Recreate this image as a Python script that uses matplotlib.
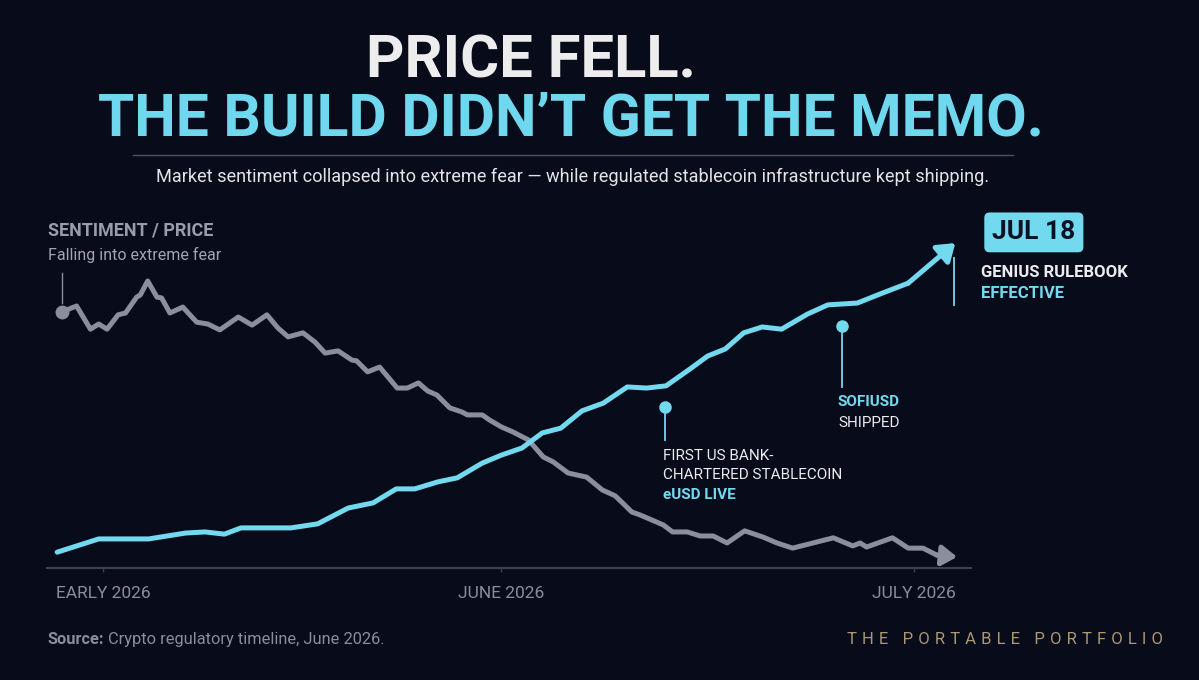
import matplotlib
matplotlib.use("Agg")
import matplotlib.pyplot as plt
from matplotlib.lines import Line2D

W, H = 1199, 680
BG = "#070b1a"
CYAN = "#72d9ef"
GREY = "#8b8e9c"
WHITE = "#ececee"

# sentiment / price index along the timeline (0-100)
sent_x = [1.6, 3.2, 4.7, 5.6, 6.5, 7.7, 8.5, 9.7, 10.1, 10.9, 11.9, 12.4, 13.3, 14.7,
          16.2, 17.4, 18.7, 20.7, 22.2, 23.8, 25.0, 26.1, 27.7, 29.0, 30.1, 31.5, 33.0,
          33.5, 34.7, 36.0, 37.9, 39.0, 40.2, 41.2, 42.2, 43.6, 44.9, 45.5, 47.1, 47.9,
          49.2, 50.4, 52.1, 53.7, 54.8, 56.4, 58.4, 60.1, 61.5, 63.3, 64.2, 65.5, 66.7,
          67.7, 69.3, 70.7, 72.1, 73.6, 75.5, 77.5, 79.0, 80.7, 85.1, 87.2, 88.0, 88.7,
          91.5, 93.2, 94.8, 96.3, 98.5]
sent_y = [69.6, 71.2, 64.9, 66.3, 64.9, 68.8, 69.3, 73.6, 74.2, 78.0, 73.6, 73.4, 69.3, 70.9,
          66.8, 66.3, 64.7, 68.2, 66.0, 68.8, 65.2, 62.8, 63.9, 61.4, 58.4, 59.0, 56.5,
          56.3, 53.3, 54.6, 48.9, 48.9, 50.3, 48.1, 47.0, 43.5, 42.4, 41.6, 41.6, 40.2,
          38.3, 37.0, 34.8, 30.2, 28.8, 25.8, 24.7, 21.2, 19.6, 15.2, 14.4, 13.0, 11.7,
          9.8, 9.8, 8.7, 8.7, 6.8, 10.1, 8.4, 6.8, 5.4, 8.2, 6.0, 6.8, 5.7,
          8.2, 5.4, 5.4, 3.5, 3.0]

# stablecoin build-out index
build_x = [1.1, 5.6, 11.0, 15.0, 17.1, 19.2, 21.0, 26.4, 29.3, 32.6, 35.3, 37.8, 39.8, 42.3,
           44.4, 47.1, 49.2, 51.4, 53.6, 55.6, 57.9, 60.2, 62.8, 64.9, 67.0, 69.6, 71.5,
           73.4, 75.4, 77.4, 79.5, 82.3, 84.5, 87.7, 90.2, 93.2, 98.3]
build_y = [4.3, 7.9, 7.9, 9.5, 9.8, 9.2, 10.9, 10.9, 12.0, 16.3, 17.7, 21.5, 21.5, 23.4,
           24.5, 28.5, 30.7, 32.6, 36.7, 38.0, 42.7, 44.8, 49.2, 48.9, 49.5, 54.1, 57.6,
           59.5, 63.9, 65.5, 64.9, 69.0, 71.5, 72.0, 74.5, 77.4, 88.3]

tick_pos = [6.1, 49.1, 93.8]
tick_labels = ["EARLY 2026", "JUNE 2026", "JULY 2026"]

# milestones: x, marker top, stem bottom
event_x = [66.9, 86.0, 98.2]
event_top = [43.8, 65.8, 84.2]
event_bottom = [34.8, 49.2, 71.5]

TITLE_FONT = ["Roboto", "DejaVu Sans"]
BODY_FONT = ["Roboto", "DejaVu Sans"]


def fx(px):
    return px / W


def fy(py):
    return 1 - py / H


fig = plt.figure(figsize=(W / 100, H / 100), dpi=100, facecolor=BG)

ax = fig.add_axes([fx(47), fy(568), (971 - 47) / W, (568 - 200) / H])
ax.set_facecolor(BG)
ax.set_xlim(0, 100)
ax.set_ylim(0, 100)
for s in ["left", "top", "right"]:
    ax.spines[s].set_visible(False)
ax.spines["bottom"].set_color("#3c4152")
ax.spines["bottom"].set_linewidth(1.5)
ax.set_yticks([])
ax.set_xticks(tick_pos)
ax.set_xticklabels(tick_labels, family=BODY_FONT, fontsize=12.5, color="#8a8e9b")
ax.tick_params(axis="x", length=3, width=1, color="#3c4152", pad=10)

# lines
ax.plot(sent_x[:-1], sent_y[:-1], color=GREY, lw=3.6, solid_joinstyle="round",
        solid_capstyle="round", zorder=3)
ax.annotate("", xy=(sent_x[-1], sent_y[-1]), xytext=(sent_x[-2], sent_y[-2]),
            arrowprops=dict(arrowstyle="-|>,head_length=0.45,head_width=0.3",
                            color=GREY, lw=3.6, mutation_scale=20,
                            shrinkA=0, shrinkB=0), zorder=3)
ax.plot(build_x[:-1], build_y[:-1], color=CYAN, lw=3.6, solid_joinstyle="round",
        solid_capstyle="round", zorder=4)
ax.annotate("", xy=(build_x[-1], build_y[-1]), xytext=(build_x[-2], build_y[-2]),
            arrowprops=dict(arrowstyle="-|>,head_length=0.5,head_width=0.35",
                            color=CYAN, lw=3.6, mutation_scale=20,
                            shrinkA=0, shrinkB=0), zorder=4)

# sentiment start marker
ax.plot(sent_x[0], sent_y[0], "o", ms=9, color=GREY, zorder=5)
ax.plot([sent_x[0], sent_x[0]], [sent_y[0] + 2.4, 80.2], color=GREY, lw=1, zorder=2)
ax.text(0.1, 91.6, "SENTIMENT / PRICE", family=BODY_FONT, fontweight="bold",
        fontsize=13, color="#9a9caa", ha="left", va="center")
ax.text(0.1, 85.1, "Falling into extreme fear", family=BODY_FONT, fontsize=11.5,
        color="#a3a5b0", ha="left", va="center")

# milestones
for i in range(3):
    ax.plot([event_x[i], event_x[i]], [event_bottom[i], event_top[i]], color=CYAN,
            lw=1.3, zorder=2)
for i in range(2):
    ax.plot(event_x[i], event_top[i], "o", ms=8, color=CYAN, zorder=5)

ax.text(66.7, 30.4, "FIRST US BANK-", family=BODY_FONT, fontsize=11, color=WHITE,
        ha="left", va="center")
ax.text(66.7, 25.3, "CHARTERED STABLECOIN", family=BODY_FONT, fontsize=11,
        color=WHITE, ha="left", va="center")
ax.text(66.7, 19.8, "eUSD LIVE", family=BODY_FONT, fontsize=11, fontweight="bold",
        color=CYAN, ha="left", va="center")

ax.text(85.6, 45.1, "SOFIUSD", family=BODY_FONT, fontsize=11, fontweight="bold",
        color=CYAN, ha="left", va="center")
ax.text(85.6, 39.4, "SHIPPED", family=BODY_FONT, fontsize=11, color=WHITE,
        ha="left", va="center")

ax.text(106.8, 91.2, "JUL 18", family=BODY_FONT, fontsize=19, fontweight="bold",
        color="#0a1224", ha="center", va="center", clip_on=False,
        bbox=dict(boxstyle="round,pad=0.3,rounding_size=0.2", fc=CYAN, ec="none"))
ax.text(101.1, 80.4, "GENIUS RULEBOOK", family=BODY_FONT, fontsize=12,
        fontweight="bold", color=WHITE, ha="left", va="center", clip_on=False)
ax.text(101.1, 74.5, "EFFECTIVE", family=BODY_FONT, fontsize=12,
        fontweight="bold", color=CYAN, ha="left", va="center", clip_on=False)

# headline
fig.text(fx(531), fy(78), "PRICE FELL.", family=TITLE_FONT, fontweight="bold",
         fontsize=43, color="#ededed", ha="center", va="baseline")
fig.text(fx(571), fy(135), "THE BUILD DIDN\u2019T GET THE MEMO.", family=TITLE_FONT,
         fontweight="bold", fontsize=42.3, color="#6fd7ee", ha="center", va="baseline")
fig.add_artist(Line2D([fx(133), fx(1013)], [fy(155), fy(155)], color="#4f5464", lw=1))
fig.text(fx(573), fy(182), "Market sentiment collapsed into extreme fear \u2014 while regulated "
         "stablecoin infrastructure kept shipping.", family=BODY_FONT, fontsize=13.1,
         color="#e4e4e8", ha="center", va="baseline")

# footer
src = fig.text(fx(47), fy(644), "Source:", family=BODY_FONT, fontweight="bold",
               fontsize=11.8, color="#8a8e9b", ha="left", va="baseline")
fig.canvas.draw()
bb = src.get_window_extent()
fig.text((bb.x1 + 4) / W, fy(644), "Crypto regulatory timeline, June 2026.",
         family=BODY_FONT, fontsize=11.8, color="#8a8e9b", ha="left", va="baseline")

brand = "\u2009\u200a".join("THE PORTABLE PORTFOLIO")
fig.text(fx(1163), fy(644), brand, family=BODY_FONT, fontsize=12, color="#ad9874",
         ha="right", va="baseline")

fig.savefig("out.png", dpi=100, facecolor=BG)
